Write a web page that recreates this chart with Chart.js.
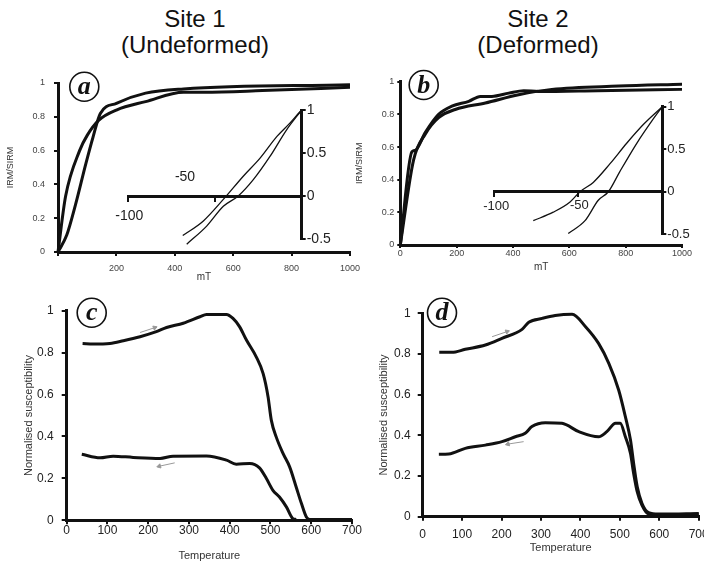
<!DOCTYPE html>
<html lang="en">
<head>
<meta charset="UTF-8">
<title>IRM acquisition and susceptibility curves</title>
<script src="https://cdn.jsdelivr.net/npm/chart.js"></script>
<style>
  html, body { margin: 0; padding: 0; background: #fff; overflow: hidden; }
  body { width: 704px; height: 563px; position: relative; font-family: "Liberation Sans", Arial, sans-serif; }
  canvas { position: absolute; }
  .site { position: absolute; top: 6px; width: 240px; text-align: center; font-size: 24px; line-height: 26px; color: #111; }
</style>
</head>
<body>
<div class="site" style="left:75px">Site 1<br>(Undeformed)</div>
<div class="site" style="left:418px">Site 2<br>(Deformed)</div>
<canvas id="chartA" width="380" height="230" style="left:0;top:60px"></canvas>
<canvas id="chartB" width="380" height="230" style="left:352px;top:60px"></canvas>
<canvas id="chartC" width="380" height="273" style="left:0;top:290px"></canvas>
<canvas id="chartD" width="380" height="273" style="left:352px;top:290px"></canvas>
<canvas id="insetA" width="250" height="160" style="left:100px;top:95px"></canvas>
<canvas id="insetB" width="240" height="160" style="left:470px;top:95px"></canvas>
<script>
// IRM acquisition (mT, IRM/SIRM)
const irmSite1a = [[0,0],[26,0.33],[74,0.6],[100,0.69],[140,0.78],[200,0.84],[300,0.89],[430,0.945],[500,0.945],[700,0.955],[1000,0.975]];
const irmSite1b = [[0,0],[30,0.1],[60,0.28],[95,0.52],[120,0.68],[145,0.82],[200,0.88],[300,0.94],[430,0.965],[1000,0.99]];
const irmSite2a = [[0,0],[41,0.57],[53,0.58],[89,0.69],[136,0.8],[183,0.85],[243,0.88],[284,0.91],[325,0.91],[385,0.93],[438,0.945],[491,0.94],[700,0.945],[1000,0.953]];
const irmSite2b = [[0,0],[47,0.52],[89,0.68],[136,0.78],[195,0.83],[302,0.87],[420,0.92],[538,0.953],[775,0.973],[1000,0.984]];

// back-field insets (mT, normalised)
const backSite1a = [[-68.6,-0.46],[-56.7,-0.29],[-45.2,-0.04],[-33.7,0.23],[-24,0.44],[-14.4,0.69],[-6.7,0.85],[-1,0.98],[0,1]];
const backSite1b = [[-66.3,-0.56],[-54.8,-0.35],[-45.2,-0.12],[-36.6,0],[-27.9,0.19],[-18.3,0.46],[-8.7,0.77],[0,1]];
const backSite2a = [[-76.8,-0.34],[-64.9,-0.24],[-54.9,-0.12],[-49,0],[-41.1,0.11],[-31.1,0.33],[-21.2,0.57],[-11.3,0.79],[0,1]];
const backSite2b = [[-56,-0.49],[-46,-0.34],[-38.1,-0.1],[-32.1,0],[-25.2,0.24],[-15.2,0.57],[-6.3,0.83],[0,1]];
const backTicks = [-100, -50];

// susceptibility vs temperature (heating / cooling)
const heatSite1 = [[39,0.844],[65,0.841],[106,0.844],[139,0.857],[180,0.876],[220,0.9],[245,0.92],[286,0.94],[327,0.971],[343,0.982],[392,0.982],[408,0.963],[424,0.924],[441,0.86],[465,0.78],[482,0.7],[494,0.59],[502,0.478],[514,0.398],[531,0.318],[547,0.255],[563,0.159],[576,0.08],[588,0.016],[596,0.004],[700,0.004]];
const coolSite1 = [[37,0.315],[82,0.298],[114,0.306],[163,0.3],[229,0.295],[261,0.306],[343,0.307],[392,0.287],[416,0.268],[449,0.271],[473,0.25],[490,0.199],[506,0.143],[522,0.111],[539,0.064],[555,0.008],[563,0.004]];
const heatSite2 = [[42,0.808],[74,0.808],[108,0.823],[159,0.844],[201,0.877],[252,0.921],[269,0.956],[303,0.975],[336,0.989],[379,0.995],[413,0.934],[446,0.852],[472,0.754],[497,0.623],[514,0.492],[527,0.377],[535,0.262],[544,0.148],[556,0.066],[573,0.02],[598,0.013],[700,0.013]];
const coolSite2 = [[41,0.307],[66,0.308],[108,0.336],[159,0.352],[201,0.369],[235,0.393],[260,0.41],[277,0.443],[311,0.462],[353,0.459],[396,0.418],[446,0.393],[467,0.418],[489,0.459],[501,0.459],[514,0.393],[527,0.311],[535,0.213],[544,0.123],[556,0.057],[573,0.013],[607,0.008],[700,0.016]];
const heatArrow1 = [[180,0.896],[216,0.919]];
const coolArrow1 = [[265,0.274],[227,0.258]];
const heatArrow2 = [[176,0.885],[214,0.91]];
const coolArrow2 = [[256,0.369],[216,0.357]];

Chart.defaults.font.family = '"Liberation Sans", Arial, sans-serif';
Chart.defaults.color = '#333';

const pts = arr => arr.map(([x, y]) => ({ x, y }));
const fmt = v => String(Number(v.toFixed(2)));

const curve = (arr, width) => ({
  data: pts(arr), borderColor: '#111', borderWidth: width, pointRadius: 0,
  cubicInterpolationMode: 'monotone', clip: false
});
const arrow = (arr, angle) => ({
  data: pts(arr), borderColor: '#999', borderWidth: 1, clip: false,
  pointRadius: [0, 2.5], pointStyle: 'triangle', rotation: angle,
  pointBackgroundColor: '#999', pointBorderColor: '#999'
});

// circled panel letter
const panelTag = {
  id: 'panelTag',
  afterDraw(chart, args, opts) {
    if (!opts.letter) return;
    const { ctx, chartArea } = chart;
    const cx = chartArea.left + opts.dx, cy = chartArea.top + opts.dy;
    ctx.save();
    ctx.beginPath();
    ctx.arc(cx, cy, 14.5, 0, Math.PI * 2);
    ctx.fillStyle = '#fff';
    ctx.fill();
    ctx.lineWidth = 1.6;
    ctx.strokeStyle = '#111';
    ctx.stroke();
    ctx.font = 'italic bold 26px "Liberation Serif", "Times New Roman", serif';
    ctx.textAlign = 'center';
    ctx.textBaseline = 'middle';
    ctx.fillStyle = '#111';
    ctx.fillText(opts.letter, cx, cy + 1);
    ctx.restore();
  }
};

// labels of the inset horizontal axis (placed above or below the axis)
const axisNotes = {
  id: 'axisNotes',
  afterDraw(chart, args, opts) {
    if (!opts.items) return;
    const { ctx, scales } = chart;
    const y0 = scales.y.getPixelForValue(0);
    ctx.save();
    ctx.font = opts.size + 'px "Liberation Sans", Arial, sans-serif';
    ctx.fillStyle = '#222';
    ctx.textAlign = 'center';
    ctx.textBaseline = 'middle';
    opts.items.forEach((v, i) => {
      ctx.fillText(String(v), scales.x.getPixelForValue(v) + opts.dx[i], y0 + opts.dy[i]);
    });
    ctx.restore();
  }
};

function mainChart(id, c) {
  return new Chart(document.getElementById(id), {
    type: 'line',
    data: { datasets: c.datasets },
    options: {
      responsive: false,
      animation: false,
      layout: { padding: c.pad },
      plugins: {
        legend: { display: false },
        tooltip: { enabled: false },
        panelTag: c.tag
      },
      scales: {
        x: {
          type: 'linear', min: 0, max: c.xMax,
          ticks: {
            stepSize: c.xStep, padding: c.xPad, color: c.tickColor,
            font: { size: c.tickSize, lineHeight: 1 }, maxRotation: 0,
            callback: v => (c.hideZero && v === 0) ? '' : fmt(v)
          },
          grid: { drawOnChartArea: false, tickLength: c.xTl, color: '#111', lineWidth: 2 },
          border: { color: '#111', width: 3 },
          title: { display: true, text: c.xTitle, color: '#333', font: { size: c.titleSize }, padding: { top: 0, bottom: c.xTitlePad } },
          afterFit: s => { s.height = c.xh; }
        },
        y: {
          min: 0, max: 1,
          ticks: { stepSize: 0.2, padding: c.yPad, color: c.tickColor, font: { size: c.tickSize, lineHeight: 1 }, callback: fmt },
          grid: { drawOnChartArea: false, tickLength: c.yTl, color: '#111', lineWidth: 2 },
          border: { color: '#111', width: 3 },
          title: { display: true, text: c.yTitle, color: '#333', font: { size: c.yTitleSize }, padding: { top: c.yTitlePad, bottom: 0 } },
          afterFit: s => { s.width = c.yw; }
        }
      }
    },
    plugins: [panelTag]
  });
}

function insetChart(id, c) {
  return new Chart(document.getElementById(id), {
    type: 'line',
    data: { datasets: c.datasets },
    options: {
      responsive: false,
      animation: false,
      layout: { padding: c.pad },
      plugins: {
        legend: { display: false },
        tooltip: { enabled: false },
        axisNotes: { items: backTicks, size: c.size, dx: c.noteDx, dy: c.noteDy }
      },
      scales: {
        x: {
          type: 'linear', min: -100, max: 0, position: { y: 0 },
          ticks: { display: false, stepSize: 50 },
          grid: { drawOnChartArea: false, tickLength: 4, color: '#111', lineWidth: 2 },
          border: { color: '#111', width: 3 }
        },
        y: {
          min: -0.5, max: 1, position: 'right',
          ticks: { stepSize: 0.5, padding: 1, color: '#222', font: { size: c.size, lineHeight: 1 }, callback: fmt },
          grid: { drawOnChartArea: false, tickLength: 4, color: '#111', lineWidth: 2 },
          border: { color: '#111', width: 3 },
          afterFit: s => { s.width = c.yw; }
        }
      }
    },
    plugins: [axisNotes]
  });
}

mainChart('chartA', {
  datasets: [curve(irmSite1a, 3), curve(irmSite1b, 3)],
  pad: { left: 0, top: 23, right: 30, bottom: 0 },
  xMax: 1000, xStep: 200, hideZero: true, xTitle: 'mT', yTitle: 'IRM/SIRM',
  tickSize: 9, tickColor: '#444', titleSize: 10, yTitleSize: 9,
  xTl: 4, xPad: 8.5, xh: 38, xTitlePad: 7,
  yTl: 4, yPad: 9, yw: 58, yTitlePad: 5.6,
  tag: { letter: 'a', dx: 26.3, dy: 3.7 }
});

mainChart('chartB', {
  datasets: [curve(irmSite2a, 3), curve(irmSite2b, 3)],
  pad: { left: 0, top: 21.7, right: 50, bottom: 0 },
  xMax: 1000, xStep: 200, hideZero: false, xTitle: 'mT', yTitle: 'IRM/SIRM',
  tickSize: 9, tickColor: '#444', titleSize: 10, yTitleSize: 9,
  xTl: 3, xPad: 1.5, xh: 45, xTitlePad: 17,
  yTl: 3, yPad: 3, yw: 48.3, yTitlePad: 2.6,
  tag: { letter: 'b', dx: 23.4, dy: 3.3 }
});

mainChart('chartC', {
  datasets: [curve(heatSite1, 3), curve(coolSite1, 3), arrow(heatArrow1, 70), arrow(coolArrow1, 255)],
  pad: { left: 0, top: 20.7, right: 28, bottom: 0 },
  xMax: 700, xStep: 100, hideZero: false, xTitle: 'Temperature', yTitle: 'Normalised susceptibility',
  tickSize: 12, tickColor: '#222', titleSize: 11, yTitleSize: 11,
  xTl: 4, xPad: 0, xh: 42.7, xTitlePad: 0.7,
  yTl: 5, yPad: 8, yw: 66.7, yTitlePad: 22.4,
  tag: { letter: 'c', dx: 25, dy: 2 }
});

mainChart('chartD', {
  datasets: [curve(heatSite2, 3), curve(coolSite2, 3), arrow(heatArrow2, 70), arrow(coolArrow2, 255)],
  pad: { left: 0, top: 23.3, right: 33.3, bottom: 0 },
  xMax: 700, xStep: 100, hideZero: false, xTitle: 'Temperature', yTitle: 'Normalised susceptibility',
  tickSize: 12, tickColor: '#222', titleSize: 11, yTitleSize: 11,
  xTl: 4, xPad: 8, xh: 46.3, xTitlePad: 8.4,
  yTl: 5, yPad: 7, yw: 70.7, yTitlePad: 25.4,
  tag: { letter: 'd', dx: 19.3, dy: -0.6 }
});

insetChart('insetA', {
  datasets: [curve(backSite1a, 1.3), curve(backSite1b, 1.3)],
  pad: { left: 28.3, top: 15, right: 0, bottom: 16 },
  yw: 48.3, size: 14, noteDx: [1, -30], noteDy: [20, -19]
});

insetChart('insetB', {
  datasets: [curve(backSite2a, 1.3), curve(backSite2b, 1.3)],
  pad: { left: 24.3, top: 11.7, right: 0, bottom: 20.7 },
  yw: 47.7, size: 13, noteDx: [2, 1], noteDy: [15, 14]
});
</script>
</body>
</html>
